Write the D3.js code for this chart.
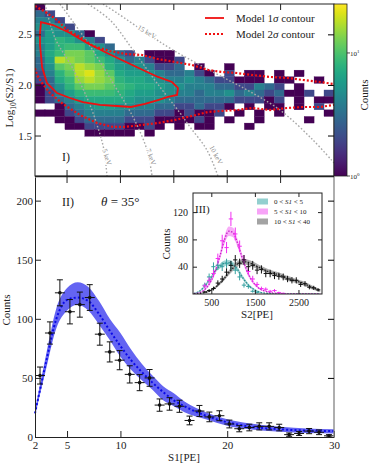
<!DOCTYPE html>
<html>
<head>
<meta charset="utf-8">
<script src="https://cdnjs.cloudflare.com/ajax/libs/d3/7.8.5/d3.min.js"></script>
<style>
  body { margin: 0; background: #fff; }
  svg text { font-family: "Liberation Serif", "DejaVu Serif", serif; fill: #222; }
</style>
</head>
<body>
<div id="chart"></div>
<script>
// ---------- data ----------
// S1 bins (PE), shared by both panels
let s1Centers = [2.47, 3.40, 4.33, 5.27, 6.20, 7.13, 8.07, 9.00, 9.93, 10.87, 11.80, 12.73, 13.67, 14.60, 15.53,
                 16.47, 17.40, 18.33, 19.27, 20.20, 21.13, 22.07, 23.00, 23.93, 24.87, 25.80, 26.73, 27.67, 28.60, 29.53]
let s1Half = 0.467

// panel II data
let s1Counts = [52, 88, 122, 106, 112, 118, 87, 72, 65, 53, 46, 50, 27, 28, 26, 14, 22, 17, 18, 11, 7, 8, 9, 9, 8, 2, 3, 5, 4, 1]
let s1Errors = [7.2, 9.4, 11, 10.3, 10.6, 10.9, 9.3, 8.5, 8.1, 7.3, 6.8, 7.1, 5.2, 5.3, 5.1, 3.7, 4.7, 4.1, 4.2, 3.3, 2.6, 2.8, 3, 3, 2.8, 1.4, 1.7, 2.2, 2, 1]

let modelS1 = [2, 3, 4, 5, 6, 7, 8, 9, 10, 11, 12, 13, 14, 15, 16, 18, 20, 22, 25, 30]
let modelMean = [20, 62, 100, 116, 118, 115, 104, 90, 77, 65, 55, 46, 38, 31, 26, 18, 12.5, 9, 6.5, 5]
let modelLo = [18, 56, 92, 107, 112, 107, 95, 82, 68, 57, 48, 40, 31, 26, 21, 15, 9.5, 6.5, 4.5, 3]
let modelHi = [23, 68, 109, 126, 131, 127, 115, 100, 88, 74, 62, 52, 43, 37, 30, 21, 15, 11.6, 8.7, 6.5]

// panel I heatmap: rows top -> bottom, one char per S1 bin
// '.' empty, digits = counts, a..f = 11,13,15,18,21,25
let hmRows = [
  "1.............................",
  "32............................",
  "442...........................",
  "5552..........................",
  "365531........................",
  "5687542.......................",
  "46899653......................",
  "479bba7532.111................",
  "36dcba975342112...............",
  "35abdcb86554223.1..1..........",
  "248adeca7665433421.2.11.1.1...",
  "2379cdcb877654454322111.11..1.",
  "1358abba98776554443322432.1...",
  "1246899987665544344534323112 2".replace(' ', '.'),
  "1234677776555433333322212 1.11".replace(' ', '.'),
  "..134566554433223221 1.11.1.2.".replace(' ', '.'),
  "1112344443332212112 1.1.1....1".replace(' ', '.'),
  "..1123333222111121.1..1....1..",
  "...1122221121.1.11...1........",
  ".....11111.1..................",
  "..............................",
  "..............................",
  "..............................",
  "..............................",
  "..............................",
  ".............................."
]
let hmLevels = {'1': 1, '2': 2, '3': 3, '4': 4, '5': 5, '6': 6, '7': 7, '8': 8, '9': 9,
                'a': 11, 'b': 13, 'c': 15, 'd': 18, 'e': 21, 'f': 25}
let hmY0 = 1.1
let hmDY = 0.0654

// model contours, [S1, log10(S2/S1)]
let sigma1 = [[2.56, 2.622], [3.69, 2.592], [5.28, 2.513], [6.87, 2.415], [8.74, 2.316], [10.52, 2.227],
  [12.30, 2.138], [13.52, 2.079], [14.83, 2.029], [15.39, 1.970], [15.30, 1.901], [14.45, 1.881],
  [13.52, 1.851], [12.30, 1.812], [10.99, 1.782], [9.68, 1.792], [8.09, 1.802], [6.49, 1.831],
  [5.28, 1.871], [4.06, 1.920], [3.12, 2.019], [2.66, 2.177], [2.47, 2.395], [2.47, 2.513]]
let sigma2Upper = [[2.00, 2.780], [3.12, 2.711], [4.06, 2.642], [5.00, 2.543], [6.21, 2.474], [7.43, 2.385],
  [9.02, 2.335], [10.52, 2.306], [12.02, 2.296], [13.52, 2.256], [15.11, 2.227], [16.70, 2.197],
  [18.20, 2.148], [19.51, 2.128], [20.91, 2.118], [22.41, 2.098], [24.00, 2.079], [25.60, 2.069],
  [27.09, 2.049], [28.69, 2.029], [30.00, 2.009]]
let sigma2Lower = [[2.00, 2.167], [2.19, 2.098], [2.66, 2.019], [3.40, 1.920], [4.62, 1.812], [6.21, 1.703],
  [7.81, 1.624], [9.30, 1.585], [10.43, 1.585], [12.02, 1.605], [13.52, 1.624], [15.11, 1.654],
  [16.70, 1.693], [18.20, 1.733], [19.51, 1.743], [20.91, 1.752], [22.41, 1.772], [24.00, 1.752],
  [25.60, 1.772], [27.09, 1.782], [28.69, 1.782], [30.00, 1.802]]

// energy contours
let keV5 = [[2.94, 2.80], [3.87, 2.464], [5.46, 2.177], [6.96, 1.851], [7.90, 1.575], [8.46, 1.357], [8.74, 1.10]]
let keV7 = [[4.34, 2.80], [6.96, 2.415], [9.30, 2.019], [11.18, 1.683], [12.49, 1.357], [12.96, 1.10]]
let keV10 = [[6.96, 2.80], [9.02, 2.642], [11.18, 2.345], [13.42, 2.019], [15.58, 1.723], [16.51, 1.585], [18.10, 1.357], [19.13, 1.10]]
let keV15 = [[8.37, 2.80], [9.68, 2.711], [12.30, 2.523], [14.92, 2.345], [18.67, 2.128], [21.85, 1.950], [24.94, 1.752], [28.03, 1.456], [30.0, 1.229]]
let keVLabels = [
  {text: '5 keV', s1: 8.74, u: 1.288, rot: 72},
  {text: '7 keV', s1: 12.86, u: 1.288, rot: 70},
  {text: '10 keV', s1: 18.95, u: 1.308, rot: 62},
  {text: '15 keV', s1: 12.49, u: 2.523, rot: 31}
]

// inset III: models on S2 grid
let inGrid = [100, 200, 300, 400, 500, 600, 700, 800, 900, 1000, 1100, 1200, 1300, 1400, 1500,
              1600, 1700, 1800, 1900, 2000, 2100, 2200, 2300, 2400, 2500, 2600, 2700, 2800, 2900, 3000]
let tealMean = [1, 3, 8, 16, 24, 35, 41, 45, 46, 43, 36, 26, 17, 10, 6, 3, 1.5, 1, 0.5, 0, 0, 0, 0, 0, 0, 0, 0, 0, 0, 0]
let tealBand = [0.5, 1, 1.5, 2, 3, 3, 3.5, 4, 4, 4, 3.5, 3, 2.5, 2, 1.5, 1, 0.5, 0.5, 0.3, 0, 0, 0, 0, 0, 0, 0, 0, 0, 0, 0]
let magMean = [0.5, 1.5, 4, 10, 20, 35, 56, 79, 92, 90, 75, 55, 37, 23, 14, 8, 5, 3, 1.5, 1, 0.5, 0, 0, 0, 0, 0, 0, 0, 0, 0]
let magBand = [0.3, 0.5, 1, 2, 3, 4, 5, 6, 7, 7, 6, 5, 4, 3, 2, 1.5, 1, 0.5, 0.5, 0.3, 0.2, 0, 0, 0, 0, 0, 0, 0, 0, 0]
let blkMean = [0, 0.5, 1.5, 3, 6, 10, 16, 23, 31, 38, 44, 47, 47, 45, 42, 39, 36, 33, 31, 29, 27, 24, 22, 20, 18, 16, 13, 10, 7.5, 5]
let blkBand = [0, 0.3, 0.5, 1, 1.5, 2, 2.5, 3, 3.5, 4, 4, 4, 4, 4, 4, 3.5, 3.5, 3.5, 3.5, 3.5, 3.5, 3.5, 3.5, 3, 3, 3, 3, 3, 2.5, 2.5]

// inset III: measured points
let tealS2 = [350, 450, 550, 650, 750, 850, 950, 1050, 1150, 1250, 1350, 1450, 1550]
let tealPts = [13, 25, 40, 42, 40, 45, 42, 35, 25, 13, 11, 4, 2.5]
let tealErr = [3.6, 5, 6.3, 6.5, 6.3, 6.7, 6.5, 5.9, 5, 3.6, 3.3, 2, 1.6]
let magS2 = [350, 450, 550, 650, 750, 850, 950, 1050, 1150, 1250, 1350, 1450, 1550, 1650, 1750, 1850, 1950, 2050, 2150]
let magPts = [12, 20, 30, 52, 78, 68, 110, 88, 70, 50, 33, 22, 14, 8, 7, 4, 5, 2, 1]
let magErr = [3.5, 4.5, 5.5, 7.2, 8.8, 8.2, 10.5, 9.4, 8.4, 7.1, 5.7, 4.7, 3.7, 2.8, 2.6, 2, 2.2, 1.4, 1]
let blkS2 = [350, 450, 550, 650, 750, 850, 950, 1050, 1150, 1250, 1350, 1450, 1550, 1650, 1750, 1850, 1950,
             2050, 2150, 2250, 2350, 2450, 2550, 2650, 2750, 2850, 2950]
let blkPts = [3, 5, 8, 16, 22, 32, 42, 50, 45, 50, 40, 42, 35, 36, 30, 30, 27, 26, 25, 22, 20, 20, 14, 15, 10, 9, 6]
let blkErr = [1.7, 2.2, 2.8, 4, 4.7, 5.7, 6.5, 7.1, 6.7, 7.1, 6.3, 6.5, 5.9, 6, 5.5, 5.5, 5.2, 5.1, 5, 4.7, 4.5, 4.5, 3.7, 3.9, 3.2, 3, 2.4]
let inS2Half = 50

let legendIn = [
  {label: '0 < ', s1: 'S1', rest: ' < 5', fill: '#93cfcf'},
  {label: '5 < ', s1: 'S1', rest: ' < 10', fill: '#f7a3f7'},
  {label: '10 < ', s1: 'S1', rest: ' < 40', fill: '#a3a3a3'}
]

// ---------- layout ----------
let width = 374, height = 466
let svg = d3.select('#chart').append('svg')
  .attr('width', width)
  .attr('height', height)

let x = d3.scaleLinear().domain([2, 30]).range([35, 334])
let yTop = d3.scaleLinear().domain([1.1, 2.8]).range([176, 4])
let yBot = d3.scaleLinear().domain([0, 220]).range([437, 177])
let color = d3.scaleSequentialLog(d3.interpolateViridis).domain([1, 25])

let defs = svg.append('defs')
defs.append('clipPath').attr('id', 'clipTop')
  .append('rect').attr('x', 35).attr('y', 4).attr('width', 299).attr('height', 172)

// ---------- panel I ----------
let gTop = svg.append('g').attr('clip-path', 'url(#clipTop)')

let cells = []
hmRows.forEach(function(row, i) {
  let r = hmRows.length - 1 - i
  row.split('').forEach(function(ch, k) {
    if (hmLevels[ch]) cells.push({k: k, r: r, v: hmLevels[ch]})
  })
})

gTop.selectAll('rect.cell')
  .data(cells)
  .enter().append('rect')
  .attr('class', 'cell')
  .attr('x', d => x(s1Centers[d.k] - s1Half))
  .attr('width', d => x(s1Centers[d.k] + s1Half) - x(s1Centers[d.k] - s1Half))
  .attr('y', d => yTop(hmY0 + (d.r + 1) * hmDY))
  .attr('height', d => yTop(hmY0 + d.r * hmDY) - yTop(hmY0 + (d.r + 1) * hmDY))
  .attr('fill', d => color(d.v))
  .attr('stroke', d => color(d.v))
  .attr('stroke-width', 0.3)

let lineTop = d3.line().x(d => x(d[0])).y(d => yTop(d[1])).curve(d3.curveCatmullRom)

// energy lines
;[keV5, keV7, keV10, keV15].forEach(function(pts) {
  gTop.append('path')
    .attr('d', lineTop(pts))
    .attr('fill', 'none')
    .attr('stroke', '#a8a8a8')
    .attr('stroke-width', 1.4)
    .attr('stroke-dasharray', '1.6,2')
})

gTop.selectAll('text.kev')
  .data(keVLabels)
  .enter().append('text')
  .attr('class', 'kev')
  .attr('transform', d => 'translate(' + x(d.s1) + ',' + yTop(d.u) + ') rotate(' + d.rot + ')')
  .attr('text-anchor', 'middle')
  .attr('dy', '0.33em')
  .attr('font-size', '7px')
  .style('fill', '#8a8a8a')
  .style('stroke', '#fff')
  .style('stroke-width', 3)
  .style('paint-order', 'stroke')
  .text(d => d.text)

// model contours
gTop.append('path')
  .attr('d', d3.line().x(d => x(d[0])).y(d => yTop(d[1])).curve(d3.curveLinearClosed)(sigma1))
  .attr('fill', 'none')
  .attr('stroke', '#f01010')
  .attr('stroke-width', 1.8)

;[sigma2Upper, sigma2Lower].forEach(function(pts) {
  gTop.append('path')
    .attr('d', d3.line().x(d => x(d[0])).y(d => yTop(d[1]))(pts))
    .attr('fill', 'none')
    .attr('stroke', '#f01010')
    .attr('stroke-width', 2.2)
    .attr('stroke-dasharray', '2,2')
})

// top frame and ticks
svg.append('rect')
  .attr('x', 35).attr('y', 4).attr('width', 299).attr('height', 172)
  .attr('fill', 'none').attr('stroke', '#222').attr('stroke-width', 1)

let topTicks = [5, 10, 15, 20, 25]
let gT = svg.append('g')
topTicks.forEach(function(t) {
  gT.append('line').attr('x1', x(t)).attr('x2', x(t)).attr('y1', 4).attr('y2', 10)
  gT.append('line').attr('x1', x(t)).attr('x2', x(t)).attr('y1', 176).attr('y2', 170)
  gT.append('line').attr('x1', x(t)).attr('x2', x(t)).attr('y1', 177).attr('y2', 183)
})
gT.selectAll('line').attr('stroke', '#222').attr('stroke-width', 1)

let yTopAxis = svg.append('g')
  .attr('transform', 'translate(35,0)')
  .call(d3.axisLeft(yTop).tickValues([1.5, 2.0, 2.5]).tickFormat(d3.format('.1f')).tickSizeInner(-6).tickSizeOuter(0).tickPadding(3))
yTopAxis.select('.domain').remove()

let yTopRight = svg.append('g')
  .attr('transform', 'translate(334,0)')
  .call(d3.axisRight(yTop).tickValues([1.5, 2.0, 2.5]).tickFormat('').tickSizeInner(-6).tickSizeOuter(0))
yTopRight.select('.domain').remove()

svg.append('text')
  .attr('transform', 'translate(13,98) rotate(-90)')
  .attr('text-anchor', 'middle')
  .attr('font-size', '11px')
  .html('Log<tspan font-size="7.5px" dy="3">10</tspan><tspan dy="-3">(S2/S1)</tspan>')

svg.append('text').attr('x', 62).attr('y', 161).attr('font-size', '12px').text('I)')

// legend
let legTop = svg.append('g')
legTop.append('line').attr('x1', 205).attr('x2', 224).attr('y1', 18).attr('y2', 18)
  .attr('stroke', '#f01010').attr('stroke-width', 1.8)
legTop.append('line').attr('x1', 205).attr('x2', 224).attr('y1', 34).attr('y2', 34)
  .attr('stroke', '#f01010').attr('stroke-width', 2.2).attr('stroke-dasharray', '2,2')
legTop.append('text').attr('x', 236).attr('y', 22).attr('font-size', '11px')
  .html('Model 1<tspan font-style="italic">σ</tspan> contour')
legTop.append('text').attr('x', 236).attr('y', 38).attr('font-size', '11px')
  .html('Model 2<tspan font-style="italic">σ</tspan> contour')

// colorbar
let cbY = d3.scaleLog().domain([1, 25]).range([176, 4])
let grad = defs.append('linearGradient').attr('id', 'cbGrad')
  .attr('x1', 0).attr('y1', 1).attr('x2', 0).attr('y2', 0)
d3.range(0, 1.0001, 0.05).forEach(function(t) {
  grad.append('stop').attr('offset', t).attr('stop-color', d3.interpolateViridis(t))
})
svg.append('rect').attr('x', 334).attr('y', 4).attr('width', 13).attr('height', 172)
  .attr('fill', 'url(#cbGrad)').attr('stroke', '#222').attr('stroke-width', 0.8)
let cbTicks = [1, 10]
cbTicks.forEach(function(t) {
  svg.append('line').attr('x1', 347).attr('x2', 350).attr('y1', cbY(t)).attr('y2', cbY(t))
    .attr('stroke', '#222').attr('stroke-width', 0.8)
  svg.append('text').attr('x', 350).attr('y', cbY(t) + 3).attr('font-size', '7px')
    .html('10<tspan font-size="5px" dy="-3">' + Math.round(Math.log10(t)) + '</tspan>')
})
svg.append('text')
  .attr('transform', 'translate(368,95) rotate(-90)')
  .attr('text-anchor', 'middle')
  .attr('font-size', '11px')
  .text('Counts')

// ---------- panel II ----------
let band = d3.area()
  .x((d, i) => x(modelS1[i]))
  .y0((d, i) => yBot(modelLo[i]))
  .y1((d, i) => yBot(modelHi[i]))
  .curve(d3.curveMonotoneX)

svg.append('path')
  .attr('d', band(modelS1))
  .attr('fill', '#6464f2')

svg.append('path')
  .attr('d', d3.line().x((d, i) => x(modelS1[i])).y((d, i) => yBot(modelMean[i])).curve(d3.curveMonotoneX)(modelS1))
  .attr('fill', 'none')
  .attr('stroke', '#0a0ae6')
  .attr('stroke-width', 2)
  .attr('stroke-dasharray', '2,2.2')

let pts = svg.append('g').selectAll('g.pt')
  .data(s1Counts)
  .enter().append('g')
  .attr('class', 'pt')
  .attr('stroke', '#111')
  .attr('stroke-width', 1)

pts.append('line')
  .attr('x1', (d, i) => x(s1Centers[i] - s1Half)).attr('x2', (d, i) => x(s1Centers[i] + s1Half))
  .attr('y1', d => yBot(d)).attr('y2', d => yBot(d))
pts.append('line')
  .attr('x1', (d, i) => x(s1Centers[i])).attr('x2', (d, i) => x(s1Centers[i]))
  .attr('y1', (d, i) => yBot(d - s1Errors[i])).attr('y2', (d, i) => yBot(d + s1Errors[i]))
pts.append('line')
  .attr('x1', (d, i) => x(s1Centers[i]) - 3).attr('x2', (d, i) => x(s1Centers[i]) + 3)
  .attr('y1', (d, i) => yBot(d - s1Errors[i])).attr('y2', (d, i) => yBot(d - s1Errors[i]))
pts.append('line')
  .attr('x1', (d, i) => x(s1Centers[i]) - 3).attr('x2', (d, i) => x(s1Centers[i]) + 3)
  .attr('y1', (d, i) => yBot(d + s1Errors[i])).attr('y2', (d, i) => yBot(d + s1Errors[i]))
pts.append('circle')
  .attr('cx', (d, i) => x(s1Centers[i])).attr('cy', d => yBot(d)).attr('r', 1.8)
  .attr('fill', '#111').attr('stroke', 'none')

// axes panel II
let xBotAxis = svg.append('g')
  .attr('transform', 'translate(0,437)')
  .call(d3.axisBottom(x).tickValues([2, 5, 10, 20, 30]).tickFormat(d3.format('d')).tickSizeInner(-6).tickSizeOuter(0).tickPadding(4))
let yBotAxis = svg.append('g')
  .attr('transform', 'translate(35,0)')
  .call(d3.axisLeft(yBot).tickValues([0, 50, 100, 150, 200]).tickSizeInner(-6).tickSizeOuter(0).tickPadding(2))
let yBotRight = svg.append('g')
  .attr('transform', 'translate(334,0)')
  .call(d3.axisRight(yBot).tickValues([50, 100, 150, 200]).tickFormat('').tickSizeInner(-6).tickSizeOuter(0))
yBotRight.select('.domain').attr('stroke', '#8c8c8c').attr('stroke-width', 1.4)
  .attr('d', 'M0,177V437')

;[xBotAxis, yBotAxis, yTopAxis].forEach(function(a) {
  a.selectAll('text').attr('font-size', '11px').attr('font-family', '"Liberation Serif", serif').style('fill', '#222')
  a.selectAll('line').attr('stroke', '#222')
  a.select('.domain').attr('stroke', '#222')
})

svg.append('line').attr('x1', 35).attr('x2', 334).attr('y1', 176.5).attr('y2', 176.5)
  .attr('stroke', '#222').attr('stroke-width', 1.5)

svg.append('text').attr('x', 184).attr('y', 461).attr('text-anchor', 'middle').attr('font-size', '11px').text('S1[PE]')
svg.append('text')
  .attr('transform', 'translate(10,310) rotate(-90)')
  .attr('text-anchor', 'middle')
  .attr('font-size', '11px')
  .text('Counts')
svg.append('text').attr('x', 62).attr('y', 206).attr('font-size', '12px').text('II)')
svg.append('text').attr('x', 101).attr('y', 206).attr('font-size', '13px')
  .html('<tspan font-style="italic">θ</tspan> = 35°')

// ---------- inset III ----------
let xIn = d3.scaleLinear().domain([80, 3040]).range([193, 322])
let yIn = d3.scaleLinear().domain([0, 148]).range([294, 193])

defs.append('clipPath').attr('id', 'clipIn')
  .append('rect').attr('x', 193).attr('y', 193).attr('width', 129).attr('height', 101)

svg.append('rect').attr('x', 193).attr('y', 193).attr('width', 129).attr('height', 101)
  .attr('fill', '#fff')

let gIn = svg.append('g').attr('clip-path', 'url(#clipIn)')

let series = [
  {mean: tealMean, spread: tealBand, fill: '#93cfcf', line: '#2f8f8f', s2: tealS2, pts: tealPts, err: tealErr, mark: '#35a0a0'},
  {mean: magMean, spread: magBand, fill: '#f7a3f7', line: '#c81ec8', s2: magS2, pts: magPts, err: magErr, mark: '#f22ef2'},
  {mean: blkMean, spread: blkBand, fill: '#a3a3a3', line: '#222', s2: blkS2, pts: blkPts, err: blkErr, mark: '#111'}
]

series.forEach(function(s) {
  let area = d3.area()
    .x((d, i) => xIn(inGrid[i]))
    .y0((d, i) => yIn(Math.max(0, s.mean[i] - s.spread[i])))
    .y1((d, i) => yIn(s.mean[i] + s.spread[i]))
    .curve(d3.curveMonotoneX)
  gIn.append('path').attr('d', area(inGrid)).attr('fill', s.fill).attr('opacity', 0.9)
})

series.forEach(function(s) {
  gIn.append('path')
    .attr('d', d3.line().x((d, i) => xIn(inGrid[i])).y((d, i) => yIn(s.mean[i])).curve(d3.curveMonotoneX)(inGrid))
    .attr('fill', 'none')
    .attr('stroke', s.line)
    .attr('stroke-width', 1.3)
    .attr('stroke-dasharray', '1.5,1.5')
})

series.forEach(function(s) {
  let g = gIn.append('g').attr('stroke', s.mark).attr('stroke-width', 1)
  g.selectAll('line.h')
    .data(s.pts)
    .enter().append('line')
    .attr('class', 'h')
    .attr('x1', (d, i) => xIn(s.s2[i] - inS2Half)).attr('x2', (d, i) => xIn(s.s2[i] + inS2Half))
    .attr('y1', d => yIn(d)).attr('y2', d => yIn(d))
  g.selectAll('line.v')
    .data(s.pts)
    .enter().append('line')
    .attr('class', 'v')
    .attr('x1', (d, i) => xIn(s.s2[i])).attr('x2', (d, i) => xIn(s.s2[i]))
    .attr('y1', (d, i) => yIn(d - s.err[i])).attr('y2', (d, i) => yIn(d + s.err[i]))
})

svg.append('rect').attr('x', 193).attr('y', 193).attr('width', 129).attr('height', 101)
  .attr('fill', 'none').attr('stroke', '#222').attr('stroke-width', 1)

let inTicksX = [500, 1500, 2500]
let inTicksY = [40, 80, 120]
let xInAxis = svg.append('g')
  .attr('transform', 'translate(0,294)')
  .call(d3.axisBottom(xIn).tickValues(inTicksX).tickFormat(d3.format('d')).tickSizeInner(-4).tickSizeOuter(0).tickPadding(5))
let yInAxis = svg.append('g')
  .attr('transform', 'translate(193,0)')
  .call(d3.axisLeft(yIn).tickValues(inTicksY).tickSizeInner(-4).tickSizeOuter(0).tickPadding(5))
let yInRight = svg.append('g')
  .attr('transform', 'translate(322,0)')
  .call(d3.axisRight(yIn).tickValues(inTicksY).tickFormat('').tickSizeInner(-4).tickSizeOuter(0))
let xInTop = svg.append('g')
  .attr('transform', 'translate(0,193)')
  .call(d3.axisTop(xIn).tickValues(inTicksX).tickFormat('').tickSizeInner(-4).tickSizeOuter(0))
;[xInAxis, yInAxis, yInRight, xInTop].forEach(function(a) {
  a.select('.domain').remove()
  a.selectAll('line').attr('stroke', '#222')
  a.selectAll('text').attr('font-size', '10px').attr('font-family', '"Liberation Serif", serif').style('fill', '#222')
})

svg.append('text').attr('x', 257).attr('y', 318).attr('text-anchor', 'middle').attr('font-size', '11px').text('S2[PE]')
svg.append('text')
  .attr('transform', 'translate(170,244) rotate(-90)')
  .attr('text-anchor', 'middle')
  .attr('font-size', '11px')
  .text('Counts')
svg.append('text').attr('x', 195).attr('y', 213).attr('font-size', '11px').text('III)')

let legIn = svg.append('g').selectAll('g')
  .data(legendIn)
  .enter().append('g')
  .attr('transform', (d, i) => 'translate(257,' + (201.5 + i * 10) + ')')
legIn.append('rect').attr('x', 0).attr('y', -3).attr('width', 11).attr('height', 6).attr('fill', d => d.fill)
legIn.append('text').attr('x', 17).attr('y', 2.5).attr('font-size', '7px')
  .html(d => d.label + '<tspan font-style="italic">' + d.s1 + '</tspan>' + d.rest)
</script>
</body>
</html>
